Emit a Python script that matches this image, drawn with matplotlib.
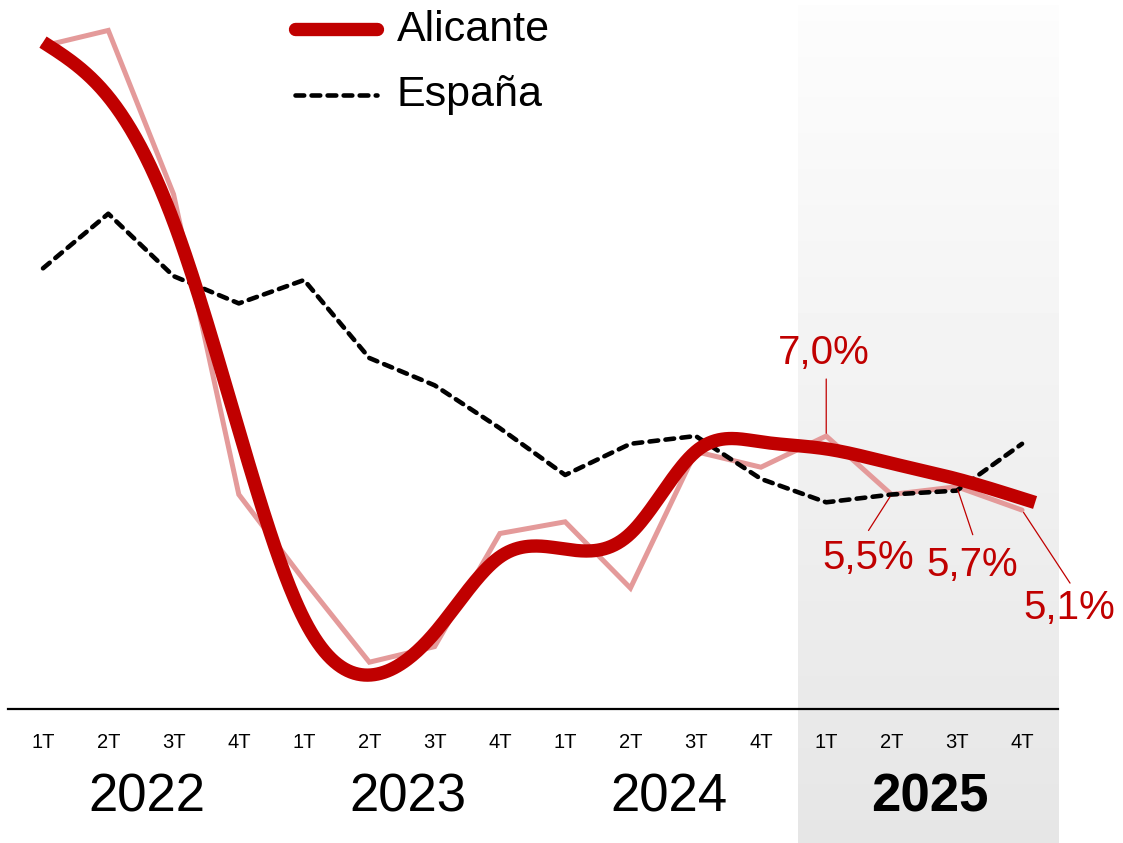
import numpy as np
import matplotlib.pyplot as plt

plt.rcParams['font.family'] = ['Liberation Sans', 'DejaVu Sans']

# datos
trimestres = ['1T', '2T', '3T', '4T'] * 4
anios = ['2022', '2023', '2024', '2025']
alicante = [17.0, 17.4, 13.2, 5.5, 3.3, 1.2, 1.6, 4.5, 4.8, 3.1, 6.6, 6.2, 7.0, 5.5, 5.7, 5.1]
espana = [11.3, 12.7, 11.1, 10.4, 11.0, 9.0, 8.3, 7.2, 6.0, 6.8, 7.0, 5.9, 5.3, 5.5, 5.6, 6.8]
tendencia = [17.1, 15.7, 12.5, 7.15, 2.3, 0.87, 1.95, 3.9, 4.1, 4.5, 6.6, 6.85, 6.67, 6.3, 5.9, 5.4]
etiquetas = {12: '7,0%', 13: '5,5%', 14: '5,7%', 15: '5,1%'}

ROJO = '#C00000'
ROSA = '#E49A9A'


def spline_natural(x, y, xs):
    # spline cúbico natural sencillo
    x = np.asarray(x, float)
    y = np.asarray(y, float)
    n = len(x)
    h = np.diff(x)
    A = np.zeros((n, n))
    b = np.zeros(n)
    A[0, 0] = A[-1, -1] = 1
    for i in range(1, n - 1):
        A[i, i - 1] = h[i - 1]
        A[i, i] = 2 * (h[i - 1] + h[i])
        A[i, i + 1] = h[i]
        b[i] = 6 * ((y[i + 1] - y[i]) / h[i] - (y[i] - y[i - 1]) / h[i - 1])
    M = np.linalg.solve(A, b)
    idx = np.clip(np.searchsorted(x, xs) - 1, 0, n - 2)
    x0, x1 = x[idx], x[idx + 1]
    hh = x1 - x0
    t0, t1 = x1 - xs, xs - x0
    return (M[idx] * t0**3 / (6 * hh) + M[idx + 1] * t1**3 / (6 * hh)
            + (y[idx] / hh - M[idx] * hh / 6) * t0
            + (y[idx + 1] / hh - M[idx + 1] * hh / 6) * t1)


fig = plt.figure(figsize=(11.23, 8.43), dpi=100)
ax = fig.add_axes([0, 0, 1, 1])
ax.set_xlim(-0.659, 16.547)
ax.set_ylim(-3.436, 18.18)
ax.axis('off')

x = np.arange(len(alicante))

# zona sombreada 2025 (degradado)
grad = np.linspace(0.99, 0.90, 256).reshape(-1, 1)
ax.imshow(grad, extent=[11.56, 15.55, -3.436, 18.05], origin='upper', cmap='gray',
          vmin=0, vmax=1, aspect='auto', zorder=0)

# eje
ax.plot([-0.536, 15.55], [0, 0], color='black', lw=1.6, zorder=1)

ax.plot(x, alicante, color=ROSA, lw=3.6, solid_capstyle='round', solid_joinstyle='miter', zorder=2)
ax.plot(x, espana, color='black', lw=3.3, dashes=(1.9, 1.6), dash_capstyle='round', zorder=3)
xs = np.linspace(0, 15.2, 600)
ax.plot(xs, spline_natural(x, tendencia, xs), color=ROJO, lw=9.6, solid_capstyle='butt', zorder=4)

# etiquetas de datos
offsets = {12: (-2, 83), 13: (-23, -63), 14: (15, -78), 15: (47, -98)}
leaders = {12: (0, 57), 13: (-23, -36), 14: (16, -48), 15: (48, -73)}
for i, txt in etiquetas.items():
    dx, dy = offsets[i]
    ax.annotate(txt, (x[i], alicante[i]), xytext=(dx * 0.72, dy * 0.72), textcoords='offset points',
                ha='center', va='center', fontsize=29, color=ROJO, zorder=6)
    lx, ly = leaders[i]
    ax.annotate('', (x[i], alicante[i]), xytext=(lx * 0.72, ly * 0.72), textcoords='offset points',
                arrowprops=dict(arrowstyle='-', color=ROJO, lw=0.9, shrinkA=0, shrinkB=2), zorder=6)

# ejes de texto
for i, q in enumerate(trimestres):
    ax.text(x[i], -0.87, q, ha='center', va='center', fontsize=14.5)
for k, a in enumerate(anios):
    ax.text(1.59 + 4 * k, -2.26, a, ha='center', va='center', fontsize=38,
            fontweight='bold' if a == '2025' else 'normal')

# leyenda manual
fig.lines.append(plt.Line2D([0.2627, 0.3357], [0.9656, 0.9656], transform=fig.transFigure,
                            color=ROJO, lw=9.6, solid_capstyle='round'))
fig.lines.append(plt.Line2D([0.2627, 0.3357], [0.8873, 0.8873], transform=fig.transFigure,
                            color='black', lw=3.3, dashes=(1.9, 1.6), dash_capstyle='round'))
fig.text(0.3535, 0.9644, 'Alicante', fontsize=31, va='center', ha='left')
fig.text(0.3535, 0.8873, 'España', fontsize=31, va='center', ha='left')

fig.savefig('out.png', dpi=100)
